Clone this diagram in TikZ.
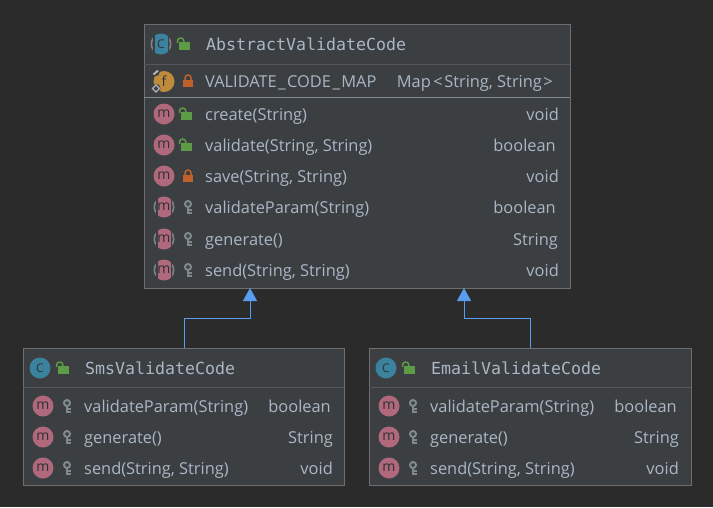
\documentclass[tikz,border=0pt]{standalone}
\usepackage{fontspec}
\setmainfont{Open Sans}
\setmonofont{DejaVu Sans Mono}
\usetikzlibrary{arrows.meta}
\definecolor{canvas}{HTML}{2B2B2B}
\definecolor{panel}{HTML}{3C3F41}
\definecolor{edge}{HTML}{6E6E6E}
\definecolor{rule}{HTML}{555758}
\definecolor{ink}{HTML}{A9B7C6}
\definecolor{dim}{HTML}{2E3133}
\definecolor{pink}{HTML}{B0687C}
\definecolor{teal}{HTML}{3B829E}
\definecolor{amber}{HTML}{BE8B3A}
\definecolor{leaf}{HTML}{5D9B47}
\definecolor{rust}{HTML}{C0612B}
\definecolor{keygray}{HTML}{808A8E}
\definecolor{greyring}{HTML}{7D8285}
\definecolor{link}{HTML}{5A9CF0}
\tikzset{
  box/.style={draw=edge, fill=panel, line width=1pt, inner sep=0pt, anchor=north west},
  title/.style={text=ink, anchor=west, inner sep=0pt, text height=15.4pt, text depth=3pt, font=\ttfamily\fontsize{16.6}{19}\selectfont},
  member/.style={text=ink, anchor=west, inner sep=0pt, text height=15.4pt, text depth=3pt, font=\fontsize{16.4}{19}\selectfont},
  kind/.style={text=ink, anchor=east, inner sep=0pt, text height=15.4pt, text depth=3pt, font=\fontsize{16.4}{19}\selectfont},
  letter/.style={text=dim, inner sep=0pt, font=\fontsize{14}{16}\selectfont},
  capital/.style={text=dim, inner sep=0pt, font=\fontsize{12}{14}\selectfont},
  inherit/.style={draw=link, line width=1pt, -{Triangle[length=13pt,width=14pt,fill=link]}},
  mIcon/.pic={
    \fill[pink] (0,0) circle (10.5);
    \node[letter] (-m) at (0,-0.5) {m};
  },
  halfmIcon/.pic={
    \draw[greyring, line width=1.6pt] (0,0) circle (9.7);
    \fill[panel] (-8,-11) rectangle (8,11);
    \begin{scope}
      \clip (0,0) circle (10.5);
      \fill[pink] (-6.5,-11) rectangle (6.5,11);
    \end{scope}
    \node[letter] (-m) at (0,-0.5) {m};
  },
  cIcon/.pic={
    \fill[teal] (0,0) circle (10.5);
    \node[capital] (-c) at (0,0) {C};
  },
  halfcIcon/.pic={
    \draw[greyring, line width=1.6pt] (0,0) circle (9.7);
    \fill[panel] (-8,-11) rectangle (8,11);
    \begin{scope}
      \clip (0,0) circle (10.5);
      \fill[teal] (-6.5,-11) rectangle (6.5,11);
    \end{scope}
    \node[capital] (-c) at (0,0) {C};
  },
  fIcon/.pic={
    \fill[amber] (0,0) circle (10.5);
    \node[letter] (-f) at (0,-0.5) {f};
    \fill[panel] (-8,-9) circle (3.6);
    \fill[panel] (-8,7) circle (4.6);
    \draw[greyring!60!white, line width=2pt] (-10.5,-7) -- (-6,-11);
    \draw[greyring!60!white, line width=1.4pt] (-8,3.5) -- (-4.5,7) -- (-8,10.5) -- (-11.5,7) -- cycle;
  },
  openLock/.pic={
    \fill[leaf] (-6,-2) rectangle (5,5.5);
    \draw[leaf, line width=1.5pt] (-7.5,-1) -- (-7.5,-3) arc[start angle=180, end angle=360, x radius=3.2, y radius=3] -- (-1.1,-2);
  },
  shutLock/.pic={
    \fill[rust] (-5,-1) rectangle (5,6);
    \draw[rust, line width=1.5pt] (-3,-1) -- (-3,-3) arc[start angle=180, end angle=360, x radius=3, y radius=3] -- (3,-1);
  },
  keyIcon/.pic={
    \draw[keygray, line width=2pt] (0,-3) circle (3);
    \draw[keygray, line width=2.4pt] (0,-0.5) -- (0,6.5);
    \draw[keygray, line width=1.8pt] (0,3) -- (3.6,3) (0,5.8) -- (3.6,5.8);
  }
}
\begin{document}
\begin{tikzpicture}[x=1pt, y=-1pt]
  \useasboundingbox[fill=canvas] (0,0) rectangle (713,507);
  % parent class
  \node[box, minimum width=426pt, minimum height=264pt] (abstractBox) at (144,24) {};
  \draw[rule] (144,64) -- (570,64);
  \draw[keygray, line width=0.8pt] (144,97.5) -- (570,97.5);
  \pic (abstractIcon) at (161,44) {halfcIcon};
  \pic (abstractAccess) at (185,44) {openLock};
  \node[title] (abstractTitle) at (206,44) {AbstractValidateCode};
  \pic (mapIcon) at (164,81.5) {fIcon};
  \pic (mapAccess) at (188,81) {shutLock};
  \node[member] (mapName) at (205,81) {VALIDATE\kern1.5pt\_\kern1.5pt CODE\kern1.5pt\_\kern1.5pt MAP};
  \node[kind] (mapType) at (553,81) {Map\kern2.5pt<\kern1.5pt String, String\kern1.5pt>};
  \pic (createIcon) at (164,114) {mIcon};
  \pic (createAccess) at (187,114) {openLock};
  \node[member] (createName) at (205,114) {create(String)};
  \node[kind] (createType) at (559,114) {void};
  \pic (validateIcon) at (164,145) {mIcon};
  \pic (validateAccess) at (187,145) {openLock};
  \node[member] (validateName) at (205,145) {validate(String, String)};
  \node[kind] (validateType) at (556,145) {boolean};
  \pic (saveIcon) at (164,176) {mIcon};
  \pic (saveAccess) at (188,176) {shutLock};
  \node[member] (saveName) at (205,176) {save(String, String)};
  \node[kind] (saveType) at (559,176) {void};
  \pic (paramIcon) at (164,207) {halfmIcon};
  \pic (paramAccess) at (188,207) {keyIcon};
  \node[member] (paramName) at (205,207) {validateParam(String)};
  \node[kind] (paramType) at (556,207) {boolean};
  \pic (generateIcon) at (164,239) {halfmIcon};
  \pic (generateAccess) at (188,239) {keyIcon};
  \node[member] (generateName) at (205,239) {generate()};
  \node[kind] (generateType) at (558,239) {String};
  \pic (sendIcon) at (164,270) {halfmIcon};
  \pic (sendAccess) at (188,270) {keyIcon};
  \node[member] (sendName) at (205,270) {send(String, String)};
  \node[kind] (sendType) at (559,270) {void};
  % sms class
  \node[box, minimum width=321pt, minimum height=137pt] (smsBox) at (23,348) {};
  \draw[rule] (23,387) -- (344,387);
  \pic (smsIcon) at (40,368) {cIcon};
  \pic (smsAccess) at (64,368) {openLock};
  \node[title] (smsTitle) at (85,368) {SmsValidateCode};
  \pic (smsParamIcon) at (43,406) {mIcon};
  \pic (smsParamAccess) at (67,406) {keyIcon};
  \node[member] (smsParamName) at (84,406) {validateParam(String)};
  \node[kind] (smsParamType) at (331,406) {boolean};
  \pic (smsGenerateIcon) at (43,437) {mIcon};
  \pic (smsGenerateAccess) at (67,437) {keyIcon};
  \node[member] (smsGenerateName) at (84,437) {generate()};
  \node[kind] (smsGenerateType) at (333,437) {String};
  \pic (smsSendIcon) at (43,468) {mIcon};
  \pic (smsSendAccess) at (67,468) {keyIcon};
  \node[member] (smsSendName) at (84,468) {send(String, String)};
  \node[kind] (smsSendType) at (333,468) {void};
  % email class
  \node[box, minimum width=322pt, minimum height=137pt] (emailBox) at (369,348) {};
  \draw[rule] (369,387) -- (691,387);
  \pic (emailIcon) at (386,368) {cIcon};
  \pic (emailAccess) at (410,368) {openLock};
  \node[title] (emailTitle) at (431,368) {EmailValidateCode};
  \pic (emailParamIcon) at (389,406) {mIcon};
  \pic (emailParamAccess) at (413,406) {keyIcon};
  \node[member] (emailParamName) at (430,406) {validateParam(String)};
  \node[kind] (emailParamType) at (677,406) {boolean};
  \pic (emailGenerateIcon) at (389,437) {mIcon};
  \pic (emailGenerateAccess) at (413,437) {keyIcon};
  \node[member] (emailGenerateName) at (430,437) {generate()};
  \node[kind] (emailGenerateType) at (679,437) {String};
  \pic (emailSendIcon) at (389,468) {mIcon};
  \pic (emailSendAccess) at (413,468) {keyIcon};
  \node[member] (emailSendName) at (430,468) {send(String, String)};
  \node[kind] (emailSendType) at (679,468) {void};
  % inheritance
  \coordinate (smsTip) at (250,288);
  \coordinate (emailTip) at (464,288);
  \draw[inherit] (smsBox.north) -- ++(0,-30) -| (smsTip);
  \draw[inherit] (emailBox.north) -- ++(0,-30) -| (emailTip);
\end{tikzpicture}
\end{document}
